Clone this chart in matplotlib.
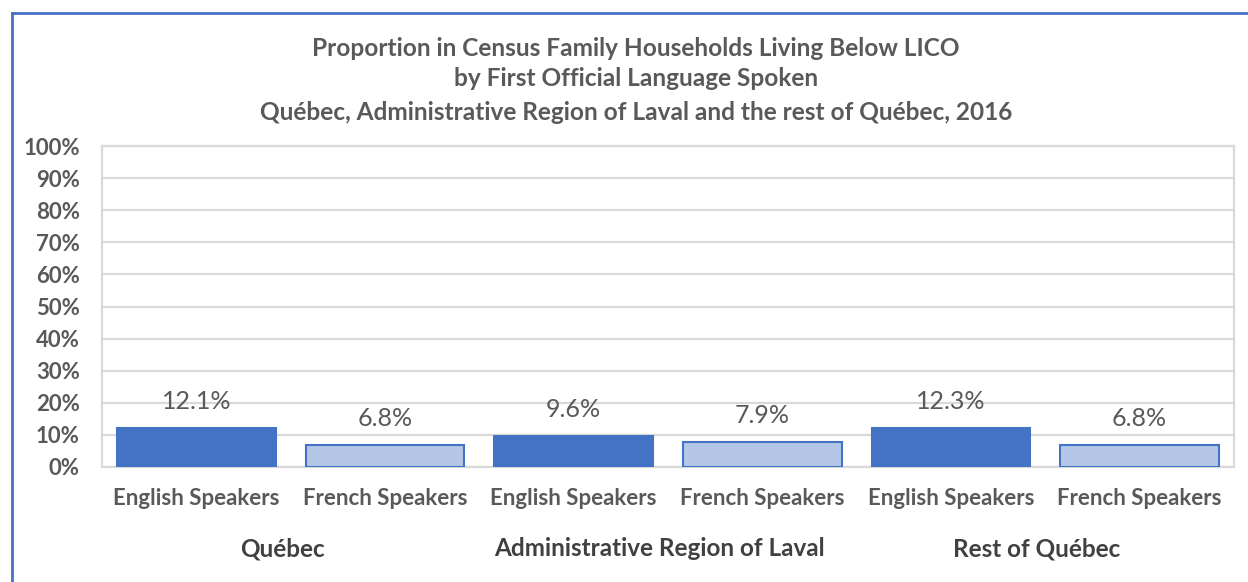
import matplotlib.pyplot as plt
from matplotlib.lines import Line2D

plt.rcParams['font.family'] = ['Lato', 'DejaVu Sans']

groups = ['Québec', 'Administrative Region of Laval', 'Rest of Québec']
speakers = ['English Speakers', 'French Speakers']
english = [12.1, 9.6, 12.3]
french = [6.8, 7.9, 6.8]
title_lines = ['Proportion in Census Family Households Living Below LICO',
               'by First Official Language Spoken',
               'Québec, Administrative Region of Laval and the rest of Québec, 2016']

dark = '#4472C4'
light = '#B4C7E7'
grey = '#595959'
grid = '#D9D9D9'

values = []
colors = []
labels = []
for e, f in zip(english, french):
    values += [e, f]
    colors += [dark, light]
    labels += speakers
xs = list(range(len(values)))

fig = plt.figure(figsize=(12.48, 5.82), dpi=100)
ax = fig.add_axes([0.0817, 0.1976, 0.9071, 0.5515])

bars = ax.bar(xs, values, width=0.84, color=colors, edgecolor=dark, linewidth=1.5, zorder=3)
for b, v in zip(bars, values):
    ax.annotate(f'{v:.1f}%', (b.get_x() + b.get_width() / 2, v), xytext=(0, 19),
                textcoords='offset points', ha='center', va='center',
                fontsize=18, color=grey, zorder=4)

ax.set_xlim(-0.5, len(values) - 0.5)
ax.set_ylim(0, 100)
ax.set_yticks(range(0, 101, 10))
ax.set_yticklabels([f'{t}%' for t in range(0, 101, 10)])
ax.yaxis.grid(True, color=grid, linewidth=1.6, zorder=0)
ax.set_xticks(xs)
ax.set_xticklabels(labels)
ax.tick_params(axis='both', length=0, colors=grey)
ax.tick_params(axis='y', pad=16, labelsize=16)
ax.tick_params(axis='x', pad=15, labelsize=16)
for lab in ax.get_xticklabels() + ax.get_yticklabels():
    lab.set_fontweight('bold')
for s in ax.spines.values():
    s.set_color(grid)
    s.set_linewidth(1.6)

trans = ax.get_xaxis_transform()
for i, g in enumerate(groups):
    ax.annotate(g, (2 * i + 0.5, 0), xycoords=trans, xytext=(-6, -59),
                textcoords='offset points', ha='center', va='center',
                fontsize=17.5, fontweight='bold', color='#404040')

for y, line in zip([48, 79, 112], title_lines):
    fig.text(636 / 1248, 1 - y / 582, line, ha='center', va='center',
             fontsize=17.6, fontweight='bold', color=grey)

# blue chart frame (left and top edges visible)
fig.add_artist(Line2D([12 / 1248, 12 / 1248], [0, 1 - 13 / 582], transform=fig.transFigure,
                      color=dark, linewidth=2))
fig.add_artist(Line2D([12 / 1248, 1], [1 - 13 / 582, 1 - 13 / 582], transform=fig.transFigure,
                      color=dark, linewidth=2))

fig.savefig('out.png', dpi=100)
